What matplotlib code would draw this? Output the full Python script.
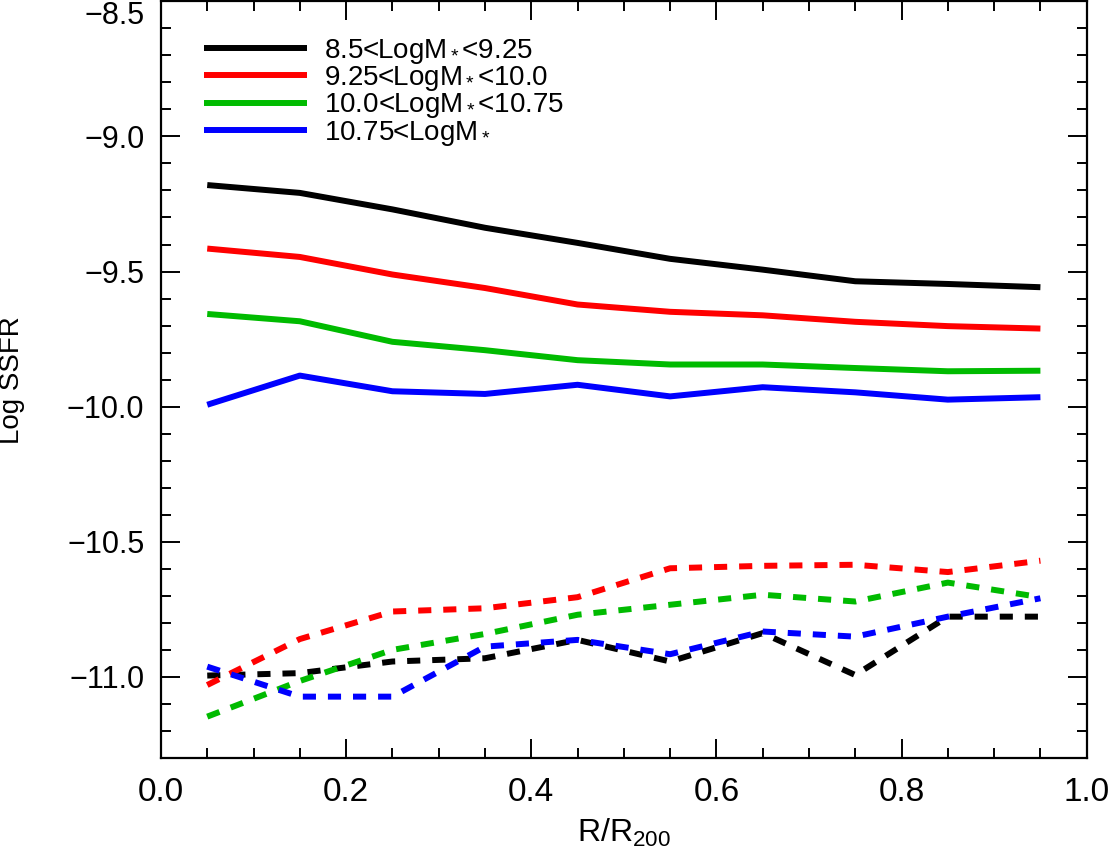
import numpy as np
import matplotlib
matplotlib.use('Agg')
from matplotlib import pyplot as plt
from matplotlib.ticker import MultipleLocator

plt.rcParams['font.family'] = ['Liberation Sans', 'DejaVu Sans']
plt.rcParams['mathtext.fontset'] = 'custom'
plt.rcParams['mathtext.rm'] = 'Liberation Sans'
plt.rcParams['mathtext.it'] = 'Liberation Sans'

# radial bins
r = [0.05, 0.15, 0.25, 0.35, 0.45, 0.55, 0.65, 0.75, 0.85, 0.95]

labels = [r'8.5<LogM$_*$<9.25', r'9.25<LogM$_*$<10.0',
          r'10.0<LogM$_*$<10.75', r'10.75<LogM$_*$']
colors = ['black', 'red', '#00bb00', 'blue']

# solid lines (upper group)
ssfr_black = [-9.180, -9.209, -9.270, -9.338, -9.394, -9.453, -9.493, -9.536, -9.546, -9.558]
ssfr_red = [-9.415, -9.446, -9.511, -9.561, -9.622, -9.649, -9.662, -9.686, -9.702, -9.711]
ssfr_green = [-9.657, -9.684, -9.760, -9.791, -9.828, -9.844, -9.844, -9.857, -9.869, -9.867]
ssfr_blue = [-9.993, -9.885, -9.943, -9.953, -9.919, -9.962, -9.928, -9.947, -9.974, -9.965]

# dashed lines (lower group)
ssfr_black_d = [-10.995, -10.986, -10.943, -10.931, -10.863, -10.943, -10.838, -10.993, -10.777, -10.777]
ssfr_red_d = [-11.030, -10.860, -10.758, -10.746, -10.705, -10.598, -10.589, -10.585, -10.612, -10.570]
ssfr_green_d = [-11.147, -11.015, -10.900, -10.841, -10.770, -10.733, -10.696, -10.721, -10.651, -10.705]
ssfr_blue_d = [-10.962, -11.073, -11.073, -10.888, -10.863, -10.916, -10.832, -10.851, -10.777, -10.709]

solid = [ssfr_black, ssfr_red, ssfr_green, ssfr_blue]
dashed = [ssfr_black_d, ssfr_red_d, ssfr_green_d, ssfr_blue_d]

xticks = [0.0, 0.2, 0.4, 0.6, 0.8, 1.0]
yticks = [-11.0, -10.5, -10.0, -9.5, -9.0, -8.5]

fig = plt.figure(figsize=(11.1, 8.56), dpi=100)
ax = fig.add_axes([0.145, 0.1145, 0.834, 0.884])

for y, c, lab in zip(solid, colors, labels):
    ax.plot(r, y, color=c, lw=4.3, label=lab, solid_capstyle='butt')
for y, c in zip(dashed, colors):
    ax.plot(r, y, color=c, lw=4.3, linestyle=(0, (2.2, 2.0)), dash_capstyle='butt')

ax.set_xlim(0.0, 1.0)
ax.set_ylim(-11.3, -8.5)
ax.set_xticks(xticks)
ax.set_xticklabels(['%.1f' % v for v in xticks])
ax.set_yticks(yticks)
ax.set_yticklabels(['\u2212%.1f' % -v for v in yticks])
ax.xaxis.set_minor_locator(MultipleLocator(0.05))
ax.yaxis.set_minor_locator(MultipleLocator(0.1))
ax.tick_params(which='both', direction='in', top=True, right=True, width=1.4)
ax.tick_params(which='major', length=14)
ax.tick_params(which='minor', length=7)
ax.tick_params(axis='x', labelsize=24, pad=14)
ax.tick_params(axis='y', labelsize=22, pad=12)
# top label sits just below the frame edge
ax.get_yticklabels()[-1].set_va('top')
for s in ax.spines.values():
    s.set_linewidth(1.6)

ax.set_xlabel(r'R/R$_{200}$', fontsize=23, labelpad=6)
ax.set_ylabel('Log SSFR', fontsize=20, labelpad=30)

ax.legend(loc='upper left', frameon=False, fontsize=20, handlelength=3.7,
          handletextpad=0.6, labelspacing=-0.06, borderaxespad=0.0,
          bbox_to_anchor=(0.035, 0.968))

plt.savefig('out.png', dpi=100)
